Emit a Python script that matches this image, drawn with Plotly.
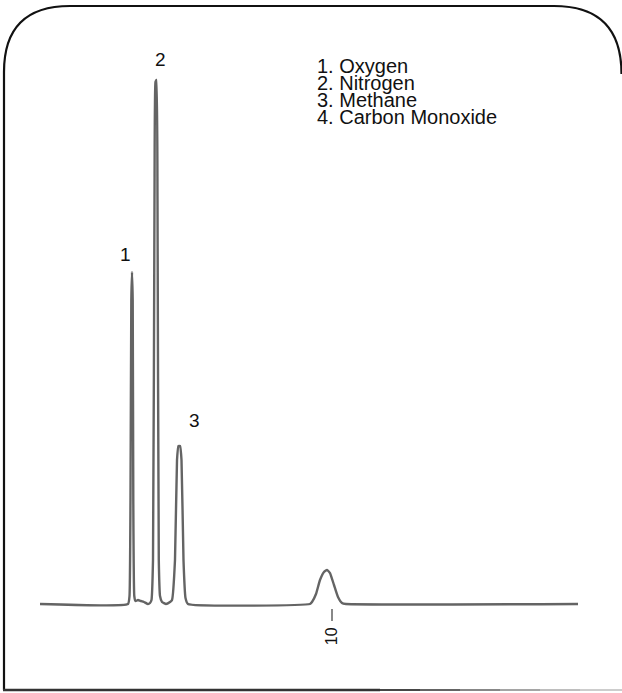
import plotly.graph_objects as go

# Chromatogram trace: retention time (min) vs. detector response (relative units)
time_min = [0.00, 3.014, 3.065, 3.099, 3.127, 3.151, 3.175, 3.195, 3.229, 3.271,
            3.356, 3.459, 3.562, 3.699, 3.767,
            3.818, 3.870, 3.921, 3.955, 3.990, 4.024, 4.068, 4.110, 4.178, 4.315, 4.452,
            4.521, 4.623, 4.692, 4.743, 4.795, 4.846, 4.914, 4.983, 5.068,
            9.247, 9.315, 9.452, 9.589, 9.726, 9.829, 9.932, 10.068, 10.205, 10.342, 10.479,
            18.425]
response = [0.00, 0.00, 1.52, 19.81, 57.90, 63.24, 57.90, 19.81, 1.52, 0.57,
            0.76, 0.57, 0.38, 0.00, 0.19,
            0.76, 8.38, 76.95, 99.43, 99.81, 76.95, 8.38, 1.52, 0.38, 0.00, 0.38,
            0.76, 8.38, 27.43, 30.10, 30.10, 27.43, 8.38, 1.14, 0.00,
            0.00, 0.38, 1.90, 4.57, 6.10, 6.48, 5.90, 3.62, 1.33, 0.19, 0.00,
            0.00]

# Labelled peaks
peak_labels = ["1", "2", "3"]
peak_times = [3.151, 3.990, 4.770]
peak_heights = [63.24, 99.81, 30.10]
label_shift_x = [-7, 4, 15]
label_shift_y = [5, 8, 13]

# Compound key
compounds = ["Oxygen", "Nitrogen", "Methane", "Carbon Monoxide"]

# Time axis ticks
tick_vals = [10]
tick_text = ["10"]

W, H = 622, 693
PLOT_H = 608
FONT = "Arial, Liberation Sans, Helvetica, sans-serif"


def px(x):
    return x / W


def py(y):
    return 1 - y / PLOT_H


fig = go.Figure()
fig.add_trace(go.Scatter(
    x=time_min, y=response, mode="lines",
    line=dict(color="#646464", width=2.4, shape="spline", smoothing=0.4),
    hoverinfo="skip", showlegend=False,
))

annotations = []
for lab, t, h, dx, dy in zip(peak_labels, peak_times, peak_heights, label_shift_x, label_shift_y):
    annotations.append(dict(
        x=t, y=h, xref="x", yref="y", text=lab, showarrow=False,
        xanchor="center", yanchor="bottom", xshift=dx, yshift=dy,
        font=dict(family=FONT, size=19, color="#111"),
    ))

for i, name in enumerate(compounds):
    annotations.append(dict(
        x=px(315), y=py(66 + 17 * i), xref="paper", yref="paper",
        text=f"{i + 1}. {name}", showarrow=False,
        xanchor="left", yanchor="middle",
        font=dict(family=FONT, size=20, color="#111"),
    ))

# Rounded-top frame around the chart
frame_path = (
    f"M {px(4)},{py(690)} L {px(4)},{py(72)} "
    f"Q {px(4)},{py(6)} {px(70)},{py(6)} "
    f"L {px(554)},{py(6)} "
    f"Q {px(621.5)},{py(6)} {px(621.5)},{py(74)}"
)
shapes = [
    dict(type="path", path=frame_path, xref="paper", yref="paper",
         line=dict(color="#111", width=2.2)),
    dict(type="line", xref="paper", yref="paper", x0=px(3), x1=px(380),
         y0=py(690), y1=py(690), line=dict(color="#333", width=2.4)),
]
# bottom edge fades towards the right
fade_stops = [380, 420, 460, 500, 540, 580, 622]
fade_greys = [70, 100, 135, 165, 190, 205]
for x0, x1, g in zip(fade_stops[:-1], fade_stops[1:], fade_greys):
    shapes.append(dict(type="line", xref="paper", yref="paper", x0=px(x0), x1=px(x1),
                       y0=py(690), y1=py(690),
                       line=dict(color=f"rgb({g},{g},{g})", width=2.2)))

fig.update_layout(
    width=W, height=H,
    margin=dict(l=0, r=0, t=0, b=H - PLOT_H, pad=0),
    paper_bgcolor="white", plot_bgcolor="white",
    showlegend=False,
    annotations=annotations,
    shapes=shapes,
    xaxis=dict(
        range=[-40 / 29.2, 582 / 29.2], showgrid=False, zeroline=False, showline=False,
        tickmode="array", tickvals=tick_vals, ticktext=tick_text,
        ticks="outside", ticklen=12, tickwidth=2, tickcolor="#888",
        tickangle=-90, tickfont=dict(family=FONT, size=16, color="#111"),
        automargin=False, fixedrange=True,
    ),
    yaxis=dict(
        range=[(604 - PLOT_H) / 5.25, 604 / 5.25], showgrid=False, zeroline=False,
        showline=False, showticklabels=False, ticks="", automargin=False, fixedrange=True,
    ),
)

fig.write_html("out.html")
